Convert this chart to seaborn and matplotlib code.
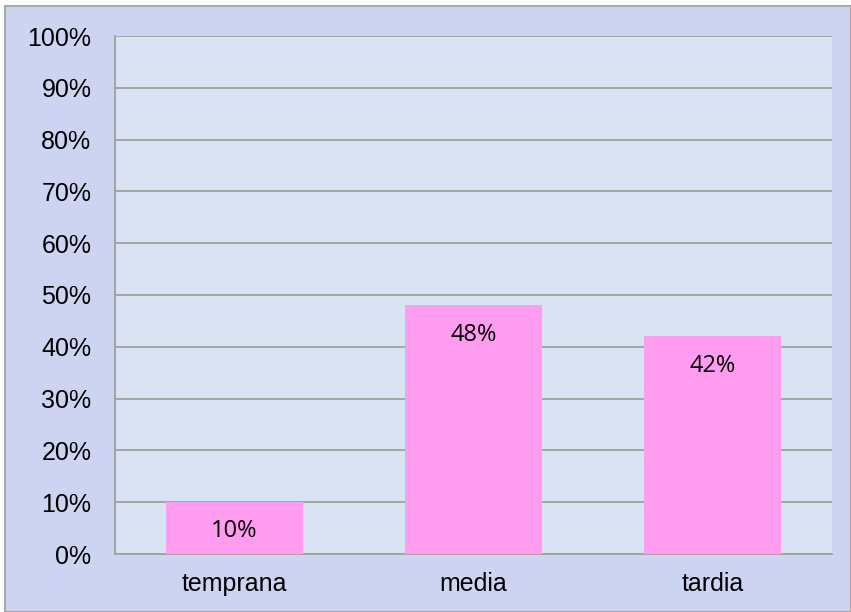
import matplotlib.pyplot as plt
import matplotlib.ticker as mtick
from matplotlib.patches import Rectangle
import seaborn as sns
import pandas as pd

categories = ["temprana", "media", "tardia"]
values = [0.10, 0.48, 0.42]
labels = ["10%", "48%", "42%"]

df = pd.DataFrame({"etapa": categories, "valor": values})

sns.set_style("white")
plt.rcParams["font.family"] = ["Liberation Sans", "DejaVu Sans"]
plt.rcParams["text.color"] = "black"
plt.rcParams["xtick.color"] = "black"
plt.rcParams["ytick.color"] = "black"

fig = plt.figure(figsize=(8.51, 6.12), dpi=100)
fig.patch.set_facecolor("white")
# textured chart background approximated by a flat pastel colour
fig.patches.append(Rectangle((5 / 851, 0), 1 - 5 / 851, 1 - 6 / 612,
                             transform=fig.transFigure, facecolor="#CCD4F2",
                             edgecolor="#A8A8A8", linewidth=1.5, zorder=-10))

ax = fig.add_axes([115 / 851, 58 / 612, 717 / 851, 518 / 612])
ax.set_facecolor("#DAE3F3")

sns.barplot(data=df, x="etapa", y="valor", color="#FF9CF0", width=0.57,
            saturation=1, linewidth=0, ax=ax, zorder=3)

ax.set_ylim(0, 1)
ax.set_yticks([i / 10 for i in range(11)])
ax.yaxis.set_major_formatter(mtick.PercentFormatter(1.0, decimals=0))
ax.grid(axis="y", color="#A0A0A0", linewidth=1.3, zorder=1)
ax.set_axisbelow(True)
ax.set_xlabel("")
ax.set_ylabel("")

for s in ["top", "right"]:
    ax.spines[s].set_visible(False)
for s in ["left", "bottom"]:
    ax.spines[s].set_color("#A0A0A0")
    ax.spines[s].set_linewidth(1.3)

ax.tick_params(axis="y", length=0, pad=17, labelsize=18, labelcolor="black")
ax.tick_params(axis="x", length=0, pad=13, labelsize=18, labelcolor="black")

for i, (v, t) in enumerate(zip(values, labels)):
    ax.annotate(t, (i, v), xytext=(0, -21), textcoords="offset points",
                ha="center", va="center", fontsize=17, color="black",
                family=["Open Sans", "DejaVu Sans"], zorder=4)

fig.savefig("out.png", dpi=100)
